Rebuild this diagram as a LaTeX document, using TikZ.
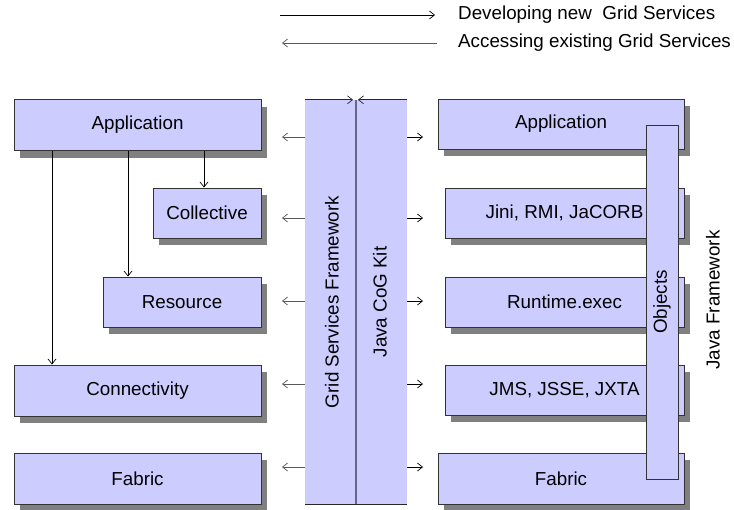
\documentclass[tikz,border=0pt]{standalone}
\usepackage{fontspec}
\setmainfont{Liberation Sans}
\usetikzlibrary{shadows,arrows.meta}
\definecolor{boxfill}{HTML}{CCCCFF}
\definecolor{midline}{HTML}{666688}
\begin{document}
\begin{tikzpicture}[x=1pt,y=-1pt,
  every node/.style={font=\fontsize{18.8}{22}\selectfont, inner sep=0pt},
  box/.style={draw=black!80, fill=boxfill, line width=0.9pt, rectangle,
    drop shadow={shadow xshift=6pt, shadow yshift=-7pt, fill=black!50, opacity=1}},
  plainbox/.style={draw=black!80, fill=boxfill, line width=0.9pt, rectangle},
  arr/.style={line width=0.7pt, -{Straight Barb[length=5pt,width=8pt,line width=0.7pt]}},
  garr/.style={arr, draw=black!65},
  lbl/.style={anchor=west}]
\useasboundingbox (0,0) rectangle (734,509);

% legend
\coordinate (lg1s) at (280,15);
\coordinate (lg1e) at (435,15);
\coordinate (lg2s) at (437,43);
\coordinate (lg2e) at (282,43);
\draw[arr] (lg1s) -- (lg1e);
\draw[garr] (lg2s) -- (lg2e);
\node[lbl] (leg1) at (458,15) {Developing new\ \ Grid Services};
\node[lbl] (leg2) at (458,43) {Accessing existing Grid Services};

% left stack
\node[box, minimum width=247pt, minimum height=51pt] (LApp) at (137.5,125) {Application};
\node[box, minimum width=108pt, minimum height=50pt] (Coll) at (207,213) {Collective};
\node[box, minimum width=158pt, minimum height=50pt] (Res) at (182,302) {Resource};
\node[box, minimum width=247pt, minimum height=51pt] (Conn) at (137.5,390.5) {Connectivity};
\node[box, minimum width=247pt, minimum height=51pt] (LFab) at (137.5,478.5) {Fabric};

\coordinate (x52) at (52,0);
\coordinate (x128) at (128,0);
\coordinate (x204) at (204,0);
\draw[arr] (x52 |- LApp.south) -- (x52 |- Conn.north);
\draw[arr] (x128 |- LApp.south) -- (x128 |- Res.north);
\draw[arr] (x204 |- LApp.south) -- (x204 |- Coll.north);

% central column
\node[fill=boxfill, minimum width=102pt, minimum height=404pt] (col) at (356,302) {};
\draw[line width=1.2pt, midline] (col.north) -- (col.south);
\draw[line width=0.9pt, black!85] (col.south west) -- (col.south east);
\draw[arr, line width=0.9pt, black!85] (col.north west) -- ([xshift=-3pt]col.north);
\draw[arr, line width=0.9pt, black!85] (col.north east) -- ([xshift=2pt]col.north);
\node[rotate=90] (gsf) at (332,302) {Grid Services Framework};
\node[rotate=90] (jcog) at (380,302) {Java CoG Kit};

% right stack
\node[box, minimum width=246pt, minimum height=50pt] (RApp) at (561,124) {Application};
\node[box, minimum width=239pt, minimum height=50pt] (Jini) at (564.5,213) {Jini, RMI, JaCORB};
\node[box, minimum width=239pt, minimum height=50pt] (Run) at (564.5,302) {Runtime.exec};
\node[box, minimum width=239pt, minimum height=50pt] (JMS) at (564.5,390) {JMS, JSSE, JXTA};
\node[box, minimum width=246pt, minimum height=51pt] (RFab) at (561,478.5) {Fabric};
\node[plainbox, rotate=90, minimum width=354pt, minimum height=32pt] (Obj) at (662,302) {Objects};
\node[rotate=90] (jfw) at (713,300) {Java Framework};

% arrows between column and stacks
\foreach \i/\y in {1/137,2/218,3/301,4/384,5/467}{
  \coordinate (la\i) at (282,\y);
  \coordinate (ra\i) at (423,\y);
  \draw[garr] (col.west |- la\i) -- (la\i);
  \draw[arr] (col.east |- ra\i) -- (ra\i);
}
\end{tikzpicture}
\end{document}
